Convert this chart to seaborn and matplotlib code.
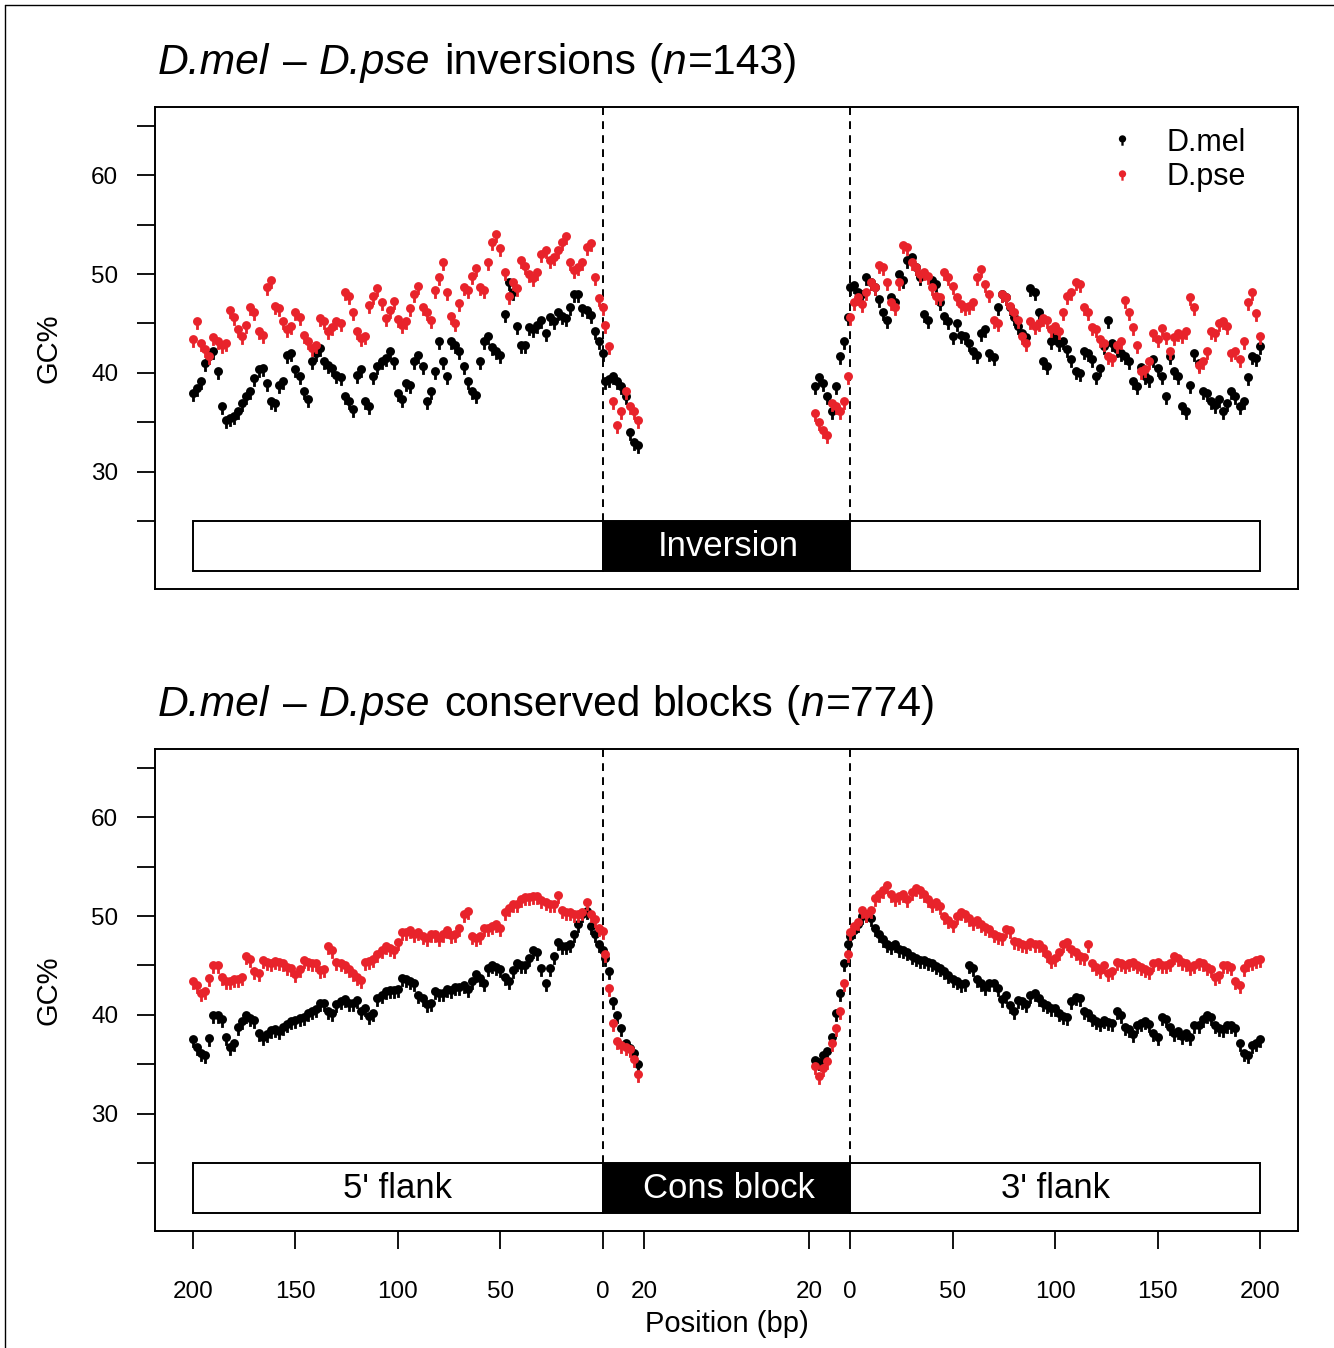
import matplotlib
matplotlib.use("Agg")
import numpy as np
import pandas as pd
import seaborn as sns
import matplotlib.pyplot as plt
from matplotlib.path import Path
from matplotlib.markers import MarkerStyle
from matplotlib.patches import Rectangle
from matplotlib.lines import Line2D
from matplotlib.text import Text
from matplotlib.transforms import offset_copy

# ---------------- data ----------------
flank_left_pos = list(range(200, -1, -2))      # 200 ... 0 (left flank, left to right)
flank_right_pos = list(range(0, 201, 2))       # 0 ... 200 (right flank)
inner_pos = list(range(1, 18, 2))              # 1 ... 17 bp into the block

# Panel 1: inversions
inv_mel_left = [37.8, 38.3, 39.0, 40.8, 41.5, 42.0, 40.0, 36.5, 35.0, 35.3, 35.5, 36.0, 36.8,
                37.5, 38.0, 39.3, 40.2, 40.3, 38.8, 37.0, 36.8, 38.6, 39.0, 41.6, 41.8, 40.2,
                39.5, 38.0, 37.2, 41.0, 41.8, 42.3, 41.0, 40.6, 40.3, 39.6, 39.4, 37.5, 37.0,
                36.2, 39.6, 40.2, 37.0, 36.5, 39.5, 40.5, 41.0, 41.3, 42.0, 41.0, 37.8, 37.2,
                38.8, 38.6, 41.0, 41.6, 40.5, 37.0, 38.0, 40.0, 43.0, 41.0, 39.5, 43.0, 42.6,
                42.0, 40.5, 39.0, 38.0, 37.6, 41.0, 43.0, 43.5, 42.4, 42.0, 41.6, 45.8, 49.0,
                48.0, 44.5, 42.6, 42.6, 44.4, 44.2, 44.6, 45.2, 43.8, 45.5, 45.0, 46.0, 45.6,
                45.4, 46.5, 47.8, 47.8, 46.4, 46.2, 45.7, 44.0, 43.0, 41.8]
inv_pse_left = [43.2, 45.0, 42.8, 42.2, 41.5, 43.4, 43.0, 42.6, 42.8, 46.2, 45.5, 44.2, 43.5,
                44.6, 46.5, 46.0, 44.0, 43.6, 48.5, 49.2, 46.6, 46.4, 45.0, 44.2, 44.5, 46.0,
                45.5, 43.6, 43.0, 42.3, 42.6, 45.4, 45.0, 44.0, 44.4, 45.0, 44.8, 48.0, 47.6,
                46.0, 44.0, 43.3, 43.5, 46.7, 47.6, 48.4, 47.0, 45.4, 46.2, 47.1, 45.3, 44.6,
                45.0, 46.4, 47.8, 48.6, 46.5, 46.0, 45.2, 48.2, 49.5, 51.0, 48.0, 45.6, 44.8,
                46.9, 48.5, 48.2, 49.6, 50.4, 48.5, 48.2, 51.0, 53.0, 53.8, 52.4, 50.0, 47.6,
                49.0, 48.4, 51.2, 50.6, 49.8, 49.4, 50.0, 51.8, 52.2, 51.2, 51.5, 52.2, 53.0,
                53.6, 51.0, 50.2, 50.5, 51.0, 52.5, 52.9, 49.5, 47.4, 46.5]
inv_mel_in_l = [39.0, 39.2, 39.5, 39.0, 38.5, 37.5, 33.8, 32.8, 32.5]
inv_pse_in_l = [44.6, 42.5, 37.0, 34.5, 36.0, 38.0, 36.5, 36.0, 35.0]
inv_mel_in_r = [45.5, 43.0, 41.5, 38.5, 36.0, 37.5, 38.8, 39.4, 38.5]
inv_pse_in_r = [39.5, 37.0, 36.0, 36.5, 36.8, 33.5, 34.0, 34.8, 35.8]
inv_mel_right = [48.5, 48.7, 48.0, 47.8, 49.5, 49.0, 48.5, 47.3, 46.0, 45.2, 47.5, 47.0, 49.8,
                 49.2, 51.2, 51.5, 50.5, 49.5, 45.8, 45.2, 49.2, 48.8, 47.0, 45.6, 45.0, 43.5,
                 44.8, 43.6, 43.5, 42.8, 42.0, 41.6, 43.8, 44.2, 41.8, 41.4, 46.5, 47.8, 47.5,
                 46.5, 45.5, 44.5, 43.8, 43.4, 48.4, 48.0, 46.0, 41.0, 40.5, 43.0, 43.5, 42.8,
                 43.0, 42.2, 41.2, 40.0, 39.8, 42.0, 41.8, 41.2, 39.5, 40.3, 42.5, 45.2, 42.8,
                 42.2, 41.8, 41.5, 41.0, 39.0, 38.5, 40.4, 39.5, 39.2, 41.2, 40.3, 39.5, 37.5,
                 41.5, 40.0, 39.5, 36.5, 36.0, 38.6, 41.8, 40.8, 38.0, 37.8, 37.0, 36.6, 37.2,
                 36.0, 36.8, 38.0, 37.5, 36.5, 37.0, 39.4, 41.5, 41.3, 42.5]
inv_pse_right = [45.5, 47.0, 47.5, 46.8, 48.0, 49.0, 48.5, 50.7, 50.5, 49.0, 47.0, 46.5, 49.0,
                 52.7, 52.5, 51.0, 50.5, 49.8, 50.0, 49.6, 48.5, 47.6, 47.5, 50.0, 49.5, 48.6,
                 47.5, 46.8, 46.5, 46.6, 47.0, 49.5, 50.3, 48.8, 47.8, 45.2, 44.8, 47.8, 47.5,
                 46.6, 46.0, 45.2, 43.5, 42.8, 45.0, 44.5, 44.8, 45.4, 45.2, 44.2, 44.5, 44.0,
                 46.0, 47.6, 48.0, 49.0, 48.8, 46.5, 46.0, 44.4, 44.2, 43.2, 42.8, 41.5, 41.3,
                 42.6, 43.0, 47.2, 46.0, 44.4, 42.6, 40.0, 40.2, 41.0, 43.8, 43.2, 44.3, 43.5,
                 42.0, 43.4, 43.8, 43.6, 44.0, 47.5, 46.5, 40.6, 41.0, 42.0, 44.0, 43.8, 44.8,
                 45.0, 44.5, 41.8, 42.0, 41.2, 43.0, 47.0, 48.0, 45.9, 43.5]

# Panel 2: conserved blocks
cons_mel_left = [37.4, 36.6, 36.0, 35.8, 37.5, 39.8, 39.8, 39.4, 37.6, 36.6, 37.0, 38.6, 39.2,
                 39.8, 39.5, 39.3, 38.0, 37.6, 37.9, 38.3, 38.4, 38.2, 38.6, 38.9, 39.2, 39.3,
                 39.5, 39.6, 40.0, 40.2, 40.4, 41.0, 41.0, 40.2, 40.0, 40.9, 41.2, 41.4, 41.0,
                 41.0, 41.3, 40.2, 40.5, 39.7, 40.0, 41.5, 41.8, 42.2, 42.3, 42.3, 42.4, 43.5,
                 43.4, 43.2, 43.0, 41.8, 41.5, 40.9, 41.0, 42.2, 42.0, 42.0, 42.4, 42.3, 42.6,
                 42.6, 42.8, 42.4, 43.2, 43.9, 43.5, 43.0, 44.5, 44.8, 44.6, 44.4, 43.6, 43.2,
                 44.3, 45.0, 44.8, 44.8, 45.6, 46.4, 46.2, 44.5, 43.0, 44.5, 45.8, 47.2, 46.8,
                 46.8, 47.0, 48.0, 49.0, 50.0, 50.3, 48.8, 48.0, 47.0, 46.4]
cons_pse_left = [43.2, 42.8, 42.0, 42.2, 43.5, 44.8, 44.8, 43.6, 43.2, 43.2, 43.4, 43.4, 43.6,
                 45.8, 45.5, 44.2, 44.0, 45.4, 45.2, 45.0, 45.3, 45.2, 45.0, 44.6, 44.5, 43.9,
                 44.4, 45.4, 45.2, 45.0, 45.0, 44.3, 44.4, 46.8, 46.4, 45.2, 45.0, 44.8, 44.4,
                 44.0, 43.6, 43.3, 45.2, 45.3, 45.5, 46.0, 46.4, 46.8, 46.6, 46.4, 47.2, 48.2,
                 48.2, 48.4, 48.0, 48.2, 47.8, 47.6, 48.0, 48.0, 47.6, 48.0, 48.4, 47.9, 48.0,
                 48.6, 50.0, 50.3, 47.8, 47.6, 47.8, 48.6, 48.6, 48.8, 49.0, 48.6, 50.2, 50.6,
                 51.0, 51.0, 51.5, 51.7, 51.7, 51.8, 51.8, 51.4, 51.2, 51.0, 51.0, 51.9, 50.4,
                 50.2, 50.2, 50.0, 50.0, 50.2, 51.2, 50.0, 49.5, 48.6, 48.3]
cons_mel_in_l = [45.6, 44.2, 41.2, 39.8, 38.5, 37.0, 36.5, 36.0, 34.8]
cons_pse_in_l = [46.0, 42.5, 39.0, 37.2, 36.8, 36.6, 36.4, 35.4, 33.8]
cons_mel_in_r = [47.0, 45.0, 42.0, 40.0, 37.6, 36.2, 35.8, 35.0, 35.3]
cons_pse_in_r = [46.0, 43.0, 40.2, 38.5, 37.0, 35.2, 34.4, 33.6, 34.6]
cons_mel_right = [47.8, 48.4, 49.0, 49.8, 50.0, 49.6, 48.6, 48.0, 47.5, 47.0, 46.8, 47.0, 46.5,
                  46.4, 46.2, 45.8, 45.6, 45.4, 45.4, 45.2, 45.0, 44.7, 44.5, 44.2, 43.8, 43.4,
                  43.2, 42.9, 43.0, 44.8, 44.5, 43.4, 43.0, 42.6, 43.0, 43.0, 42.5, 41.4, 41.8,
                  40.8, 40.2, 41.3, 41.2, 40.9, 41.8, 42.0, 41.5, 41.0, 40.8, 40.5, 40.5, 40.0,
                  39.7, 39.6, 41.2, 41.6, 41.5, 40.2, 40.0, 39.5, 39.2, 39.0, 39.3, 39.1, 39.0,
                  40.2, 39.8, 38.6, 38.4, 37.9, 38.8, 39.0, 39.2, 38.9, 38.0, 37.6, 39.6, 39.4,
                  38.6, 38.0, 38.2, 37.7, 38.0, 37.6, 38.8, 38.8, 39.4, 39.8, 39.6, 38.8, 38.5,
                  38.4, 38.8, 38.8, 38.5, 37.0, 36.0, 35.8, 36.8, 37.0, 37.4]
cons_pse_right = [48.2, 48.8, 49.2, 50.4, 50.0, 50.4, 51.6, 52.0, 52.4, 52.9, 52.0, 51.6, 51.8,
                  52.0, 51.5, 52.2, 52.6, 52.4, 52.0, 51.5, 51.0, 51.2, 50.8, 49.8, 49.4, 49.0,
                  49.8, 50.2, 50.0, 49.6, 49.2, 49.4, 49.0, 48.7, 48.5, 48.0, 47.8, 47.7, 48.5,
                  48.4, 47.3, 47.2, 47.0, 46.9, 47.2, 47.0, 47.0, 46.6, 46.0, 45.4, 45.6, 46.2,
                  47.0, 47.2, 46.5, 46.2, 45.8, 45.7, 47.0, 45.0, 44.6, 44.3, 44.8, 44.0, 44.2,
                  45.2, 45.0, 44.8, 45.0, 45.2, 44.8, 44.6, 44.4, 44.2, 45.0, 45.2, 44.8, 44.8,
                  45.0, 45.8, 45.6, 45.2, 45.0, 44.6, 44.8, 45.2, 45.0, 44.6, 44.4, 43.6, 43.8,
                  44.8, 44.8, 44.6, 43.2, 42.8, 44.5, 45.0, 45.2, 45.4, 45.5]

species = ["D.mel", "D.pse"]
colors = {"D.mel": "black", "D.pse": "#E8232B"}

x_tick_labels = ["200", "150", "100", "50", "0", "20", "20", "0", "50", "100", "150", "200"]
y_ticks = [25, 30, 35, 40, 45, 50, 55, 60, 65]
y_tick_labels = ["", "30", "", "40", "", "50", "", "60", ""]

title_parts = [
    [("D.mel", "italic"), (" ", None), ("–", "normal"), (" ", None), ("D.pse", "italic"),
     (" ", None), ("inversions", "normal"), (" ", None), ("(", "normal"), ("n", "italic"),
     ("=143)", "normal")],
    [("D.mel", "italic"), (" ", None), ("–", "normal"), (" ", None), ("D.pse", "italic"),
     (" ", None), ("conserved", "normal"), (" ", None), ("blocks", "normal"), (" ", None),
     ("(", "normal"), ("n", "italic"), ("=774)", "normal")],
]
block_labels = [("", "Inversion", ""), ("5' flank", "Cons block", "3' flank")]

# ---------------- layout helpers ----------------
BLOCK = 120.5   # axis width used for the (broken) central block, in bp units


def u_left(p):
    return -p


def u_in_left(p):
    return p


def u_in_right(p):
    return BLOCK - p


def u_right(p):
    return BLOCK + p


def build(mel_l, pse_l, mel_il, pse_il, mel_ir, pse_ir, mel_r, pse_r):
    rows = []
    for sp, vl, vil, vir, vr in [("D.mel", mel_l, mel_il, mel_ir, mel_r),
                                  ("D.pse", pse_l, pse_il, pse_ir, pse_r)]:
        for p, v in zip(flank_left_pos, vl):
            rows.append((u_left(p), v, sp))
        for p, v in zip(inner_pos, vil):
            rows.append((u_in_left(p), v, sp))
        for p, v in zip(inner_pos, vir):
            rows.append((u_in_right(p), v, sp))
        for p, v in zip(flank_right_pos, vr):
            rows.append((u_right(p), v, sp))
    return pd.DataFrame(rows, columns=["u", "gc", "species"])


df1 = build(inv_mel_left, inv_pse_left, inv_mel_in_l, inv_pse_in_l,
            inv_mel_in_r, inv_pse_in_r, inv_mel_right, inv_pse_right)
df2 = build(cons_mel_left, cons_pse_left, cons_mel_in_l, cons_pse_in_l,
            cons_mel_in_r, cons_pse_in_r, cons_mel_right, cons_pse_right)

# pin-shaped marker (dot with a short stem)
circle = Path.circle(center=(0, 0.3), radius=0.7)
stem = Path([(-0.22, -1.0), (0.22, -1.0), (0.22, -0.38), (-0.22, -0.38), (-0.22, -1.0)],
            [Path.MOVETO, Path.LINETO, Path.LINETO, Path.LINETO, Path.CLOSEPOLY])
pin = MarkerStyle(Path.make_compound_path(circle, stem))

# ---------------- style ----------------
sns.set_theme(style="white")
FAMILY = ["Liberation Sans", "DejaVu Sans"]
plt.rcParams["font.family"] = FAMILY
plt.rcParams["text.color"] = "black"

W, H = 1334, 1348
fig = plt.figure(figsize=(W / 100, H / 100), dpi=100)
fig.patch.set_facecolor("white")
renderer = fig.canvas.get_renderer()

ax1 = fig.add_axes([155 / W, 1 - 589 / H, 1143 / W, 482 / H])
ax2 = fig.add_axes([155 / W, 1 - 1231 / H, 1143 / W, 482 / H])

XLIM = (-218.5, 339.0)
YLIM = (18.18, 66.87)
TITLE_SIZE = 30.7


def text_width(s, style, size):
    t = Text(0, 0, s, fontsize=size, fontstyle=style, fontfamily=FAMILY)
    t.set_figure(fig)
    return t.get_window_extent(renderer).width


def rich_text(ax, x0, y0, parts, size):
    space_w = text_width("a a", "normal", size) - text_width("aa", "normal", size)
    cur = 0.0
    for s, style in parts:
        if s == " ":
            cur += space_w
            continue
        tr = offset_copy(ax.transAxes, fig=fig, x=cur, y=0, units="dots")
        ax.text(x0, y0, s, transform=tr, fontsize=size, fontstyle=style, ha="left",
                va="baseline", color="black", fontfamily=FAMILY)
        cur += text_width(s, style, size) + (1.5 if style == "italic" else 0.5)


for ax, df, tparts, labels in [(ax1, df1, title_parts[0], block_labels[0]),
                               (ax2, df2, title_parts[1], block_labels[1])]:
    for sp in species:
        sub = df[df["species"] == sp]
        sns.scatterplot(data=sub, x="u", y="gc", color=colors[sp], marker=pin, s=85,
                        linewidth=0, legend=False, ax=ax, zorder=3)
    ax.set_xlim(*XLIM)
    ax.set_ylim(*YLIM)
    ax.set_xlabel("")
    ax.set_ylabel("GC%", fontsize=21, color="black")
    ax.yaxis.set_label_coords(-0.093, 0.5)
    ax.yaxis.label.set_va("center")
    ax.set_yticks(y_ticks)
    ax.set_yticklabels(y_tick_labels)
    ax.tick_params(axis="y", left=True, length=13, width=1.3, pad=13.5, labelsize=17.5,
                   colors="black", direction="out")
    for s in ax.spines.values():
        s.set_color("black")
        s.set_linewidth(1.4)
        s.set_visible(True)

    # dashed boundaries
    ax.vlines([0, BLOCK], 25, YLIM[1], colors="black", linestyles=(0, (4, 3.2)),
              linewidth=1.4, zorder=2)
    # segment bar
    ax.add_patch(Rectangle((-200, 20), 200, 5, facecolor="white", edgecolor="black",
                           linewidth=1.4, zorder=4))
    ax.add_patch(Rectangle((0, 20), BLOCK, 5, facecolor="black", edgecolor="black",
                           linewidth=1.4, zorder=4))
    ax.add_patch(Rectangle((BLOCK, 20), 200, 5, facecolor="white", edgecolor="black",
                           linewidth=1.4, zorder=4))
    ax.text(-100, 22.5, labels[0], ha="center", va="center", fontsize=25, color="black", zorder=5)
    ax.text(BLOCK / 2 + 1, 22.5, labels[1], ha="center", va="center", fontsize=25,
            color="white", zorder=5)
    ax.text(BLOCK + 100, 22.5, labels[2], ha="center", va="center", fontsize=25,
            color="black", zorder=5)

    rich_text(ax, 3 / 1143, 1 + (107 - 74) / 482, tparts, TITLE_SIZE)

# x axis only on the bottom panel
ax1.tick_params(axis="x", bottom=False, labelbottom=False)
x_ticks = [u_left(200), u_left(150), u_left(100), u_left(50), u_left(0), u_in_left(20),
           u_in_right(20), u_right(0), u_right(50), u_right(100), u_right(150), u_right(200)]
ax2.set_xticks(x_ticks)
ax2.set_xticklabels(x_tick_labels)
ax2.tick_params(axis="x", bottom=True, length=13, width=1.3, pad=23, labelsize=17.5,
                colors="black", direction="out")
ax2.set_xlabel("Position (bp)", fontsize=21, color="black")
ax2.xaxis.set_label_coords(0.5, (1231 - 1324) / 482)
ax2.xaxis.label.set_va("center")

# legend on the top panel
handles = [Line2D([], [], linestyle="", marker=pin, markersize=7.5, color=colors[sp],
                  markeredgewidth=0) for sp in species]
ax1.legend(handles, species, loc="upper left", frameon=False, fontsize=22,
           labelcolor="black",
           bbox_to_anchor=((1104 - 155) / 1143, 1 - (128 - 107) / 482),
           handlelength=1.2, handletextpad=0.85, labelspacing=0.14, borderaxespad=0,
           borderpad=0)

# outer frame lines (top and left)
fig.add_artist(Line2D([5 / W, 1], [1 - 5 / H, 1 - 5 / H], transform=fig.transFigure,
                      color="black", linewidth=1.0))
fig.add_artist(Line2D([5 / W, 5 / W], [0, 1 - 5 / H], transform=fig.transFigure,
                      color="black", linewidth=1.0))

fig.savefig("out.png", dpi=100, facecolor="white")
